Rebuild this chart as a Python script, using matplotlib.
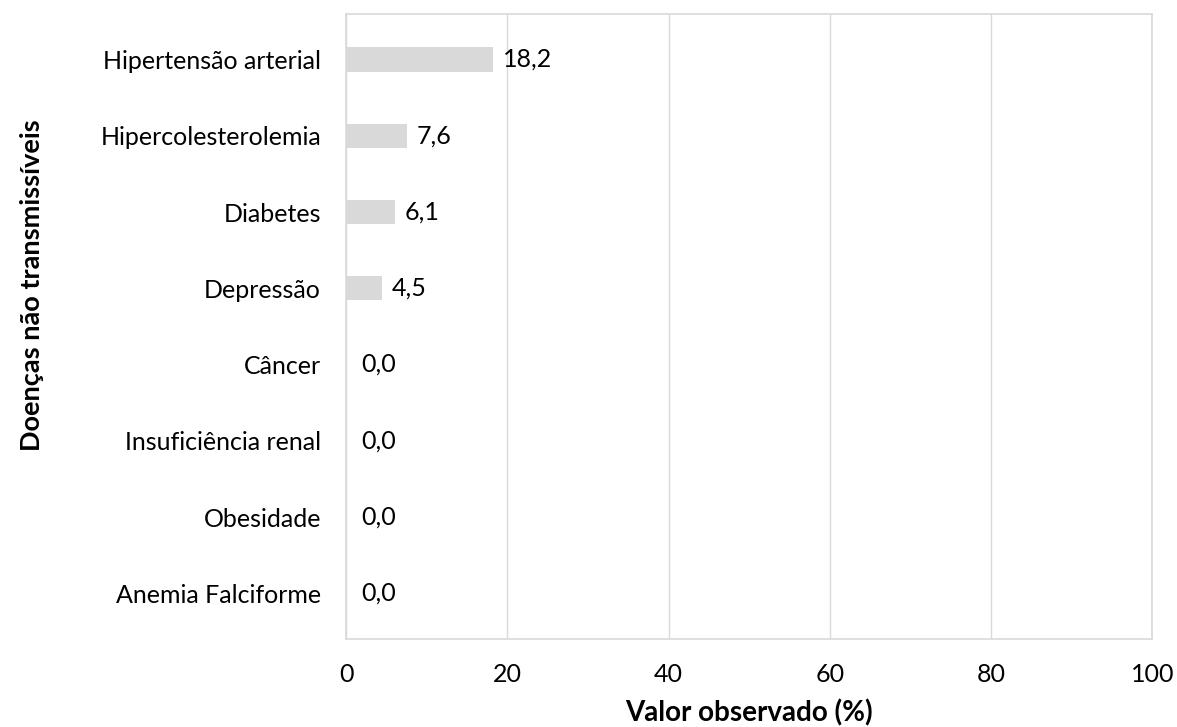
import matplotlib
matplotlib.use("Agg")
import matplotlib.pyplot as plt

# data
doencas = ["Hipertensão arterial", "Hipercolesterolemia", "Diabetes", "Depressão",
           "Câncer", "Insuficiência renal", "Obesidade", "Anemia Falciforme"]
valores = [18.2, 7.6, 6.1, 4.5, 0.0, 0.0, 0.0, 0.0]
xticks = [0, 20, 40, 60, 80, 100]

plt.rcParams['font.family'] = ['Lato', 'DejaVu Sans']

fig = plt.figure(figsize=(11.77, 7.27), dpi=100)
ax = fig.add_axes([0.294, 0.121, 0.685, 0.86])

ypos = list(range(len(doencas)))[::-1]
ax.barh(ypos, valores, height=0.32, color="#d9d9d9", zorder=2)

for y, v in zip(ypos, valores):
    label = ("%.1f" % v).replace(".", ",")
    off = 7 if v > 0 else 11
    ax.annotate(label, (v, y), xytext=(off, 0), textcoords="offset points",
                va="center", ha="left", fontsize=18, color="black")

ax.set_xlim(0, 100)
ax.set_ylim(-0.6, 7.6)
ax.set_xticks(xticks)
ax.set_xticklabels([str(t) for t in xticks], fontsize=18)
ax.set_yticks(ypos)
ax.set_yticklabels(doencas, fontsize=18)
ax.tick_params(axis="y", length=0, pad=18)
ax.tick_params(axis="x", length=0, pad=17)
ax.grid(axis="x", color="#d9d9d9", linewidth=1, zorder=0)

for s in ax.spines.values():
    s.set_color("#d9d9d9")
    s.set_linewidth(1.2)

ax.set_xlabel("Valor observado (%)", fontsize=20, fontweight="bold", labelpad=10)
ax.set_ylabel("Doenças não transmissíveis", fontsize=19.5, fontweight="bold")
ax.yaxis.set_label_coords(-0.375, 0.566)

fig.savefig("out.png", dpi=100)
